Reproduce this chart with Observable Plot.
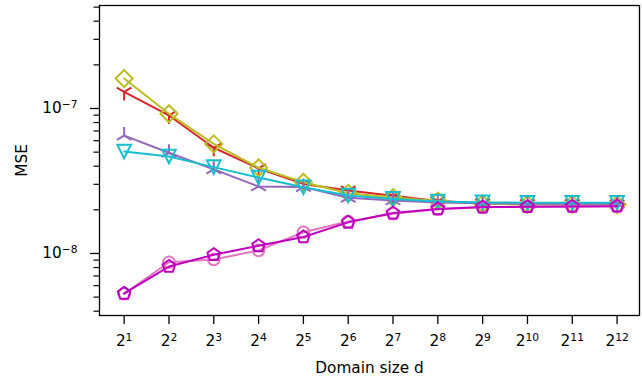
<!DOCTYPE html>
<html>
<head>
<meta charset="utf-8">
<script src="https://cdn.jsdelivr.net/npm/d3@7"></script>
<script src="https://cdn.jsdelivr.net/npm/@observablehq/plot@0.6"></script>
<style>
  html, body { margin: 0; padding: 0; background: #fff; }
  #chart svg, #chart svg text { font-family: "DejaVu Sans", sans-serif !important; }
</style>
</head>
<body>
<div id="chart"></div>
<script>
// exponents k for domain size d = 2^k
const exponents = [1,2,3,4,5,6,7,8,9,10,11,12];
const yMajorTicks = [1e-8, 1e-7];
const yTickBase = ["10", "10"];
const yTickExp = ["−8", "−7"];
const xLabel = "Domain size d";
const yLabel = "MSE";

const redSeries     = [1.30e-7, 8.95e-8, 5.36e-8, 3.86e-8, 3.02e-8, 2.72e-8, 2.50e-8, 2.30e-8, 2.22e-8, 2.20e-8, 2.20e-8, 2.18e-8];
const oliveSeries   = [1.61e-7, 9.20e-8, 5.70e-8, 3.90e-8, 3.10e-8, 2.60e-8, 2.43e-8, 2.30e-8, 2.20e-8, 2.18e-8, 2.18e-8, 2.17e-8];
const purpleSeries  = [6.50e-8, 4.95e-8, 3.80e-8, 2.90e-8, 2.87e-8, 2.42e-8, 2.32e-8, 2.25e-8, 2.22e-8, 2.20e-8, 2.20e-8, 2.20e-8];
const cyanSeries    = [5.05e-8, 4.67e-8, 3.94e-8, 3.34e-8, 2.86e-8, 2.51e-8, 2.38e-8, 2.28e-8, 2.25e-8, 2.24e-8, 2.24e-8, 2.24e-8];
const pinkSeries    = [5.27e-9, 8.70e-9, 9.10e-9, 1.05e-8, 1.40e-8, 1.66e-8, 1.88e-8, 2.02e-8, 2.08e-8, 2.10e-8, 2.11e-8, 2.12e-8];
const magentaSeries = [5.30e-9, 8.13e-9, 9.80e-9, 1.13e-8, 1.30e-8, 1.64e-8, 1.90e-8, 2.03e-8, 2.09e-8, 2.10e-8, 2.11e-8, 2.12e-8];

// custom marker shapes (matplotlib-like)
const poly = pts => ({draw(ctx, size) {
  const r = Math.sqrt(size / Math.PI);
  pts.forEach(([x, y], i) => i ? ctx.lineTo(x * r, y * r) : ctx.moveTo(x * r, y * r));
  ctx.closePath();
}});
const spokes = pts => ({draw(ctx, size) {
  const r = Math.sqrt(size / Math.PI);
  pts.forEach(([x, y]) => { ctx.moveTo(0, 0); ctx.lineTo(x * r, y * r); });
}});
const diamond = poly([[0,-1],[1,0],[0,1],[-1,0]]);
const triDownFilled = poly([[0,1],[-1,-1],[1,-1]]);
const pentagon = poly(d3.range(5).map(k => { const a = (-90 + 72 * k) * Math.PI / 180; return [Math.cos(a), Math.sin(a)]; }));
const triDown = spokes([[0,1],[-0.866,-0.5],[0.866,-0.5]]);
const triUp = spokes([[0,-1],[-0.866,0.5],[0.866,0.5]]);

const series = [
  {name: "red",     color: "#d62728", values: redSeries,     symbol: triDown,       r: 8.5},
  {name: "olive",   color: "#bcbd22", values: oliveSeries,   symbol: diamond,       r: 8.5},
  {name: "purple",  color: "#9467bd", values: purpleSeries,  symbol: triUp,         r: 8.5},
  {name: "cyan",    color: "#17becf", values: cyanSeries,    symbol: triDownFilled, r: 6.8},
  {name: "pink",    color: "#e377c2", values: pinkSeries,    symbol: "circle",      r: 5.8},
  {name: "magenta", color: "#bf00bf", values: magentaSeries, symbol: pentagon,      r: 6.6}
];

const marks = [];
for (const s of series) {
  const rows = exponents.map((k, i) => ({k, v: s.values[i]}));
  marks.push(Plot.line(rows, {x: "k", y: "v", stroke: s.color, strokeWidth: 2}));
  marks.push(Plot.dot(rows, {x: "k", y: "v", stroke: s.color, fill: "none", strokeWidth: 2, r: s.r, symbol: s.symbol}));
}

// minor ticks for log axis
const minorTicks = [];
for (const dec of [1e-9, 1e-8, 1e-7]) for (let m = 2; m <= 9; m++) {
  const v = m * dec;
  if (v > 3.735e-9 && v < 5.13e-7) minorTicks.push(v);
}

const chart = Plot.plot({
  width: 642,
  height: 379,
  marginLeft: 99,
  marginRight: 3,
  marginTop: 5,
  marginBottom: 64,
  style: {fontFamily: "'DejaVu Sans', sans-serif", fontSize: "15.3px", background: "#fff", color: "#000"},
  x: {type: "linear", domain: [0.45, 12.5], axis: null},
  y: {type: "log", domain: [3.735e-9, 5.133e-7], axis: null},
  marks: [
    Plot.axisY(minorTicks, {tickSize: 5.5, strokeWidth: 1.2, tickFormat: () => "", label: null}),
    Plot.axisY(yMajorTicks, {tickSize: 9, strokeWidth: 1.3, tickPadding: 13,
      tickFormat: (d) => "Y" + yMajorTicks.indexOf(d),
      label: yLabel, labelAnchor: "center", labelArrow: "none", labelOffset: 83}),
    Plot.axisX(exponents, {tickSize: 9, strokeWidth: 1.3, tickPadding: 11,
      tickFormat: (k) => "X" + k,
      label: xLabel, labelAnchor: "center", labelArrow: "none", labelOffset: 57}),
    ...marks,
    Plot.frame({stroke: "black", strokeWidth: 1.3})
  ]
});

// render tick labels with real superscripts (matplotlib mathtext style)
d3.select(chart).selectAll("text").each(function() {
  const t = this.textContent;
  let base = null, exp = null;
  if (/^X\d+$/.test(t)) { base = "2"; exp = t.slice(1); }
  else if (/^Y\d+$/.test(t)) { const i = +t.slice(1); base = yTickBase[i]; exp = yTickExp[i]; }
  if (base === null) return;
  const sel = d3.select(this);
  const tsp = sel.selectAll("tspan");
  const target = tsp.empty() ? sel : d3.select(tsp.node());
  target.text(null);
  target.append("tspan").text(base);
  target.append("tspan").attr("font-size", "70%").attr("dy", "-0.48em").text(exp);
});
document.getElementById("chart").appendChild(chart);
</script>
</body>
</html>
